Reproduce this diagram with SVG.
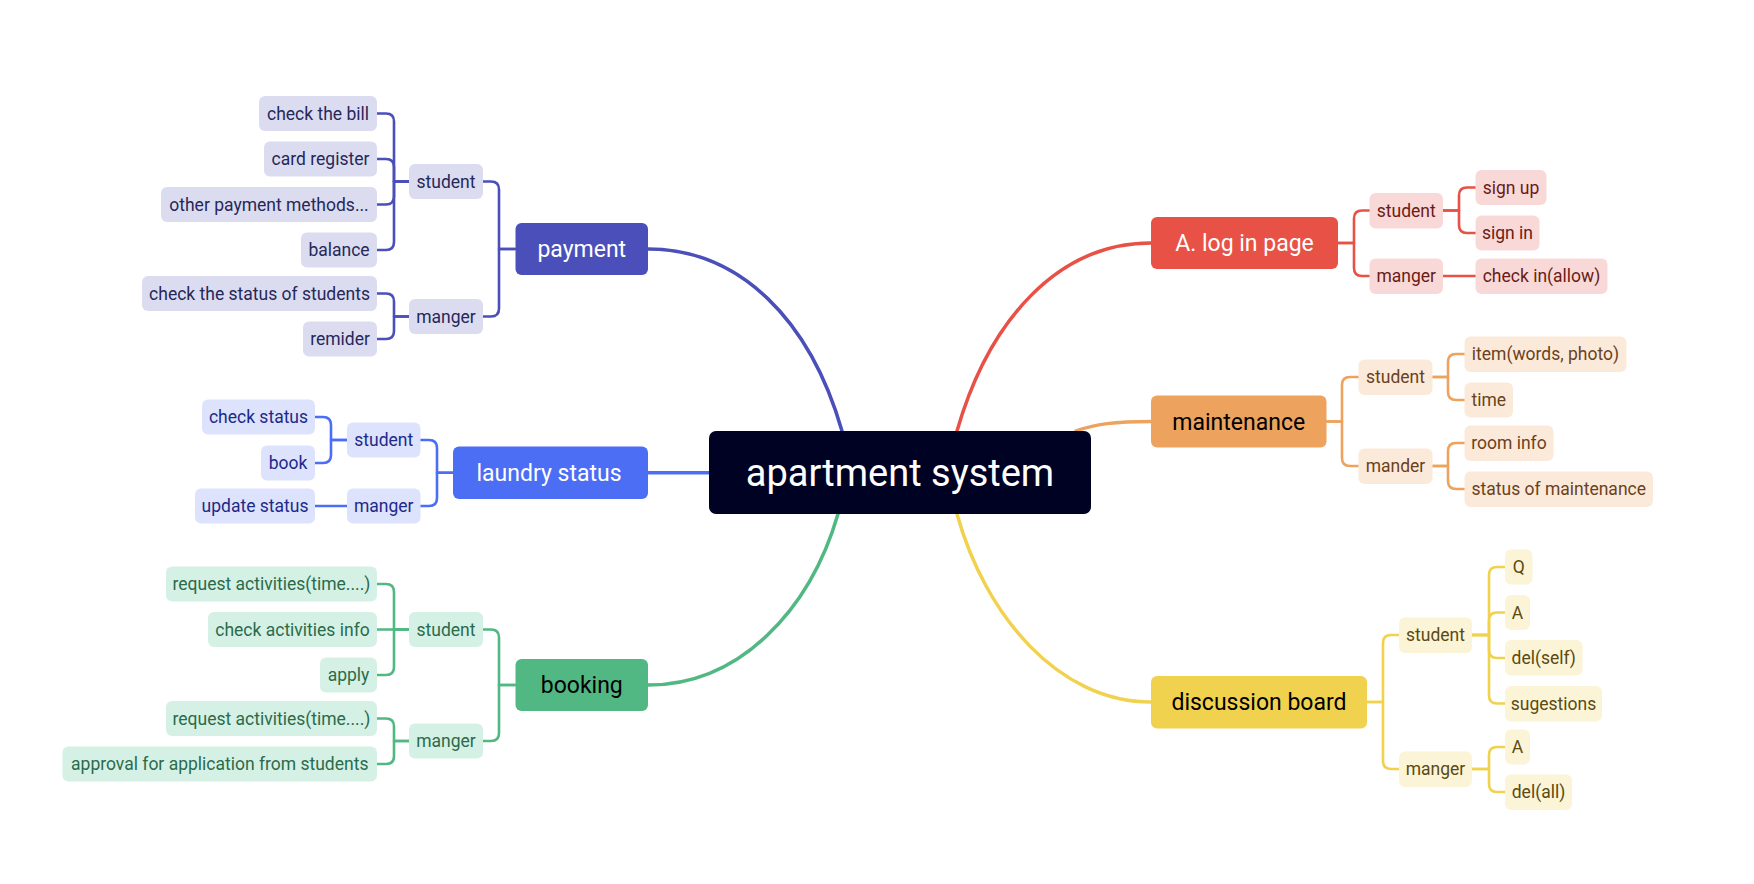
<svg xmlns="http://www.w3.org/2000/svg" width="1754" height="884" viewBox="0 0 1754 884">
<style>
text{font-family:Roboto,"Open Sans",sans-serif;text-anchor:middle}
.sub{font-size:17.5px}
.main{font-size:23px}
.c{fill:none;stroke-width:2.6;stroke-linecap:round;stroke-linejoin:round}
.m{fill:none;stroke-width:3.5;stroke-linecap:round}
.pay .r{fill:#DCDCF0}.pay text{fill:#26285A}
.lau .r{fill:#DDE3FC}.lau text{fill:#1C2A8A}
.boo .r{fill:#D5F1E5}.boo text{fill:#2A6B4B}
.log .r{fill:#F9D9D8}.log text{fill:#6B1B16}
.mai .r{fill:#FBEADA}.mai text{fill:#6B411C}
.dis .r{fill:#FCF4D6}.dis text{fill:#5B4A12}
</style>
<rect width="1754" height="884" fill="#FFFFFF"/>
<g id="connectors">
<path class="m" stroke="#4A4FB9" d="M842 431 C810 320 740 249 648 249"/>
<path class="m" stroke="#4C6EF5" d="M709 472.7 H648"/>
<path class="m" stroke="#52B883" d="M838 514 C810 610 740 685 648 685"/>
<path class="m" stroke="#E85146" d="M957 431 C989 320 1058 243 1151 243"/>
<path class="m" stroke="#EDA35E" d="M1076 431 C1095 424 1115 421.5 1151 421.5"/>
<path class="m" stroke="#F0D24E" d="M957 514 C985 615 1058 702 1151 702"/>
<g stroke="#4A4FB9">
<path class="c" d="M515 249 H499 V189.5 Q499 181.5 491 181.5 H483"/>
<path class="c" d="M515 249 H499 V308.5 Q499 316.5 491 316.5 H483"/>
<path class="c" d="M409 181.5 H394 V121.5 Q394 113.5 386 113.5 H377"/>
<path class="c" d="M409 181.5 H394 V167 Q394 159 386 159 H377"/>
<path class="c" d="M409 181.5 H394 V196.5 Q394 204.5 386 204.5 H377"/>
<path class="c" d="M409 181.5 H394 V242 Q394 250 386 250 H377"/>
<path class="c" d="M409 316.5 H394 V301.5 Q394 293.5 386 293.5 H377"/>
<path class="c" d="M409 316.5 H394 V331 Q394 339 386 339 H377"/>
</g>
<g stroke="#4C6EF5">
<path class="c" d="M453 472.7 H437 V448 Q437 440 429 440 H420.5"/>
<path class="c" d="M453 472.7 H437 V498 Q437 506 429 506 H420.5"/>
<path class="c" d="M347 440 H331 V425 Q331 417 323 417 H315"/>
<path class="c" d="M347 440 H331 V455 Q331 463 323 463 H315"/>
<path class="c" d="M347 506 H315"/>
</g>
<g stroke="#52B883">
<path class="c" d="M515 685 H499 V637.5 Q499 629.5 491 629.5 H483"/>
<path class="c" d="M515 685 H499 V733 Q499 741 491 741 H483"/>
<path class="c" d="M409 629.5 H394 V592 Q394 584 386 584 H377"/>
<path class="c" d="M409 629.5 H377"/>
<path class="c" d="M409 629.5 H394 V667 Q394 675 386 675 H377"/>
<path class="c" d="M409 741 H394 V726.5 Q394 718.5 386 718.5 H377"/>
<path class="c" d="M409 741 H394 V756 Q394 764 386 764 H377"/>
</g>
<g stroke="#E85146">
<path class="c" d="M1338 243 H1354 V218.5 Q1354 210.5 1362 210.5 H1369.5"/>
<path class="c" d="M1338 243 H1354 V268 Q1354 276 1362 276 H1369.5"/>
<path class="c" d="M1443 210.5 H1459 V195.5 Q1459 187.5 1467 187.5 H1475.5"/>
<path class="c" d="M1443 210.5 H1459 V225 Q1459 233 1467 233 H1475.5"/>
<path class="c" d="M1443 276 H1475.5"/>
</g>
<g stroke="#EDA35E">
<path class="c" d="M1326.5 421.5 H1342 V385 Q1342 377 1350 377 H1358.5"/>
<path class="c" d="M1326.5 421.5 H1342 V458 Q1342 466 1350 466 H1358.5"/>
<path class="c" d="M1432.5 377 H1448 V362 Q1448 354 1456 354 H1464.5"/>
<path class="c" d="M1432.5 377 H1448 V392 Q1448 400 1456 400 H1464.5"/>
<path class="c" d="M1432.5 466 H1448 V451 Q1448 443 1456 443 H1464.5"/>
<path class="c" d="M1432.5 466 H1448 V481 Q1448 489 1456 489 H1464.5"/>
</g>
<g stroke="#F0D24E">
<path class="c" d="M1367 702 H1383 V643 Q1383 635 1391 635 H1399"/>
<path class="c" d="M1367 702 H1383 V761 Q1383 769 1391 769 H1399"/>
<path class="c" d="M1472 635 H1489 V575 Q1489 567 1497 567 H1505"/>
<path class="c" d="M1472 635 H1489 V620.5 Q1489 612.5 1497 612.5 H1505"/>
<path class="c" d="M1472 635 H1489 V650 Q1489 658 1497 658 H1505"/>
<path class="c" d="M1472 635 H1489 V695.5 Q1489 703.5 1497 703.5 H1505"/>
<path class="c" d="M1472 769 H1489 V755 Q1489 747 1497 747 H1505"/>
<path class="c" d="M1472 769 H1489 V784 Q1489 792 1497 792 H1505"/>
</g>
</g>

<g id="center">
<rect x="709" y="431" width="382" height="83" rx="7" fill="#000223"/>
<text x="900" y="486" font-size="38" fill="#FFFFFF">apartment system</text>
</g>

<g id="payment">
<rect x="515.5" y="223" width="132.5" height="52" rx="6" fill="#4A4FB9"/>
<text class="main" x="581.75" y="257" fill="#FFFFFF">payment</text>
</g>
<g id="payment-subs" class="pay">
<g id="pay-student"><rect class="r" x="409" y="164" width="74" height="35" rx="6"/><text class="sub" x="446" y="187.6">student</text></g>
<g id="pay-manger"><rect class="r" x="409" y="299" width="74" height="35" rx="6"/><text class="sub" x="446" y="322.6">manger</text></g>
<g id="pay-bill"><rect class="r" x="259" y="96" width="118" height="35" rx="6"/><text class="sub" x="318" y="119.6">check the bill</text></g>
<g id="pay-card"><rect class="r" x="264" y="141.5" width="113" height="35" rx="6"/><text class="sub" x="320.5" y="165.1">card register</text></g>
<g id="pay-other"><rect class="r" x="161" y="187" width="216" height="35" rx="6"/><text class="sub" x="269" y="210.6">other payment methods...</text></g>
<g id="pay-balance"><rect class="r" x="301" y="232.5" width="76" height="35" rx="6"/><text class="sub" x="339" y="256.1">balance</text></g>
<g id="pay-status"><rect class="r" x="142" y="276" width="235" height="35" rx="6"/><text class="sub" x="259.5" y="299.6">check the status of students</text></g>
<g id="pay-remider"><rect class="r" x="303" y="321.5" width="74" height="35" rx="6"/><text class="sub" x="340" y="345.1">remider</text></g>
</g>

<g id="laundry">
<rect x="453" y="446.5" width="195" height="52.5" rx="6" fill="#4C6EF5"/>
<text class="main" x="549" y="480.8" fill="#FFFFFF">laundry status</text>
</g>
<g id="laundry-subs" class="lau">
<g id="lau-student"><rect class="r" x="347" y="422.5" width="73.5" height="35" rx="6"/><text class="sub" x="383.75" y="446.1">student</text></g>
<g id="lau-manger"><rect class="r" x="347" y="488.5" width="73.5" height="35" rx="6"/><text class="sub" x="383.75" y="512.1">manger</text></g>
<g id="lau-check"><rect class="r" x="202" y="399.5" width="113" height="35" rx="6"/><text class="sub" x="258.5" y="423.1">check status</text></g>
<g id="lau-book"><rect class="r" x="261" y="445.5" width="54" height="35" rx="6"/><text class="sub" x="288" y="469.1">book</text></g>
<g id="lau-update"><rect class="r" x="195" y="488.5" width="120" height="35" rx="6"/><text class="sub" x="255" y="512.1">update status</text></g>
</g>

<g id="booking">
<rect x="515.5" y="659" width="132.5" height="52" rx="6" fill="#52B883"/>
<text class="main" x="581.75" y="693" fill="#000000">booking</text>
</g>
<g id="booking-subs" class="boo">
<g id="boo-student"><rect class="r" x="409" y="612" width="74" height="35" rx="6"/><text class="sub" x="446" y="635.6">student</text></g>
<g id="boo-manger"><rect class="r" x="409" y="723.5" width="74" height="35" rx="6"/><text class="sub" x="446" y="747.1">manger</text></g>
<g id="boo-req1"><rect class="r" x="166" y="566.5" width="211" height="35" rx="6"/><text class="sub" x="271.5" y="590.1">request activities(time....)</text></g>
<g id="boo-info"><rect class="r" x="208" y="612" width="169" height="35" rx="6"/><text class="sub" x="292.5" y="635.6">check activities info</text></g>
<g id="boo-apply"><rect class="r" x="320" y="657.5" width="57" height="35" rx="6"/><text class="sub" x="348.5" y="681.1">apply</text></g>
<g id="boo-req2"><rect class="r" x="166" y="701" width="211" height="35" rx="6"/><text class="sub" x="271.5" y="724.6">request activities(time....)</text></g>
<g id="boo-approval"><rect class="r" x="62.5" y="746.5" width="314.5" height="35" rx="6"/><text class="sub" x="219.75" y="770.1">approval for application from students</text></g>
</g>

<g id="login">
<rect x="1151" y="217" width="187" height="52" rx="6" fill="#E85146"/>
<text class="main" x="1244.5" y="251" fill="#FFFFFF">A. log in page</text>
</g>
<g id="login-subs" class="log">
<g id="log-student"><rect class="r" x="1369.5" y="193" width="73.5" height="35.5" rx="6"/><text class="sub" x="1406.25" y="216.8">student</text></g>
<g id="log-manger"><rect class="r" x="1369.5" y="258.5" width="73.5" height="35.5" rx="6"/><text class="sub" x="1406.25" y="282.3">manger</text></g>
<g id="log-signup"><rect class="r" x="1475.5" y="170" width="71" height="35" rx="6"/><text class="sub" x="1511" y="193.6">sign up</text></g>
<g id="log-signin"><rect class="r" x="1475.5" y="215.5" width="64" height="35" rx="6"/><text class="sub" x="1507.5" y="239.1">sign in</text></g>
<g id="log-checkin"><rect class="r" x="1475.5" y="258.5" width="132" height="35.5" rx="6"/><text class="sub" x="1541.5" y="282.3">check in(allow)</text></g>
</g>

<g id="maintenance">
<rect x="1151" y="395.5" width="175.5" height="52" rx="6" fill="#EDA35E"/>
<text class="main" x="1238.75" y="429.5" fill="#000000">maintenance</text>
</g>
<g id="maintenance-subs" class="mai">
<g id="mai-student"><rect class="r" x="1358.5" y="359.5" width="74" height="35.5" rx="6"/><text class="sub" x="1395.5" y="383.3">student</text></g>
<g id="mai-mander"><rect class="r" x="1358.5" y="448.5" width="74" height="35.5" rx="6"/><text class="sub" x="1395.5" y="472.3">mander</text></g>
<g id="mai-item"><rect class="r" x="1464.5" y="336.5" width="162" height="35.5" rx="6"/><text class="sub" x="1545.5" y="360.3">item(words, photo)</text></g>
<g id="mai-time"><rect class="r" x="1464.5" y="382.5" width="48.5" height="35" rx="6"/><text class="sub" x="1488.75" y="406.1">time</text></g>
<g id="mai-room"><rect class="r" x="1464.5" y="425.5" width="89" height="35.5" rx="6"/><text class="sub" x="1509" y="449.3">room info</text></g>
<g id="mai-status"><rect class="r" x="1464.5" y="471.5" width="188.5" height="35.5" rx="6"/><text class="sub" x="1558.75" y="495.3">status of maintenance</text></g>
</g>

<g id="discussion">
<rect x="1151" y="676" width="216" height="52.5" rx="6" fill="#F0D24E"/>
<text class="main" x="1259" y="710.3" fill="#000000">discussion board</text>
</g>
<g id="discussion-subs" class="dis">
<g id="dis-student"><rect class="r" x="1399" y="617.5" width="73" height="35.5" rx="6"/><text class="sub" x="1435.5" y="641.3">student</text></g>
<g id="dis-manger"><rect class="r" x="1399" y="751.5" width="73" height="35.5" rx="6"/><text class="sub" x="1435.5" y="775.3">manger</text></g>
<g id="dis-q"><rect class="r" x="1505" y="549.5" width="27.5" height="35" rx="6"/><text class="sub" x="1518.75" y="573.1">Q</text></g>
<g id="dis-a1"><rect class="r" x="1505" y="595" width="25" height="35" rx="6"/><text class="sub" x="1517.5" y="618.6">A</text></g>
<g id="dis-delself"><rect class="r" x="1505" y="640" width="77.5" height="35.5" rx="6"/><text class="sub" x="1543.75" y="663.8">del(self)</text></g>
<g id="dis-sug"><rect class="r" x="1505" y="686" width="97" height="35.5" rx="6"/><text class="sub" x="1553.5" y="709.8">sugestions</text></g>
<g id="dis-a2"><rect class="r" x="1505" y="729.5" width="25" height="35" rx="6"/><text class="sub" x="1517.5" y="753.1">A</text></g>
<g id="dis-delall"><rect class="r" x="1505" y="774.5" width="67" height="35.5" rx="6"/><text class="sub" x="1538.5" y="798.3">del(all)</text></g>
</g>
</svg>
